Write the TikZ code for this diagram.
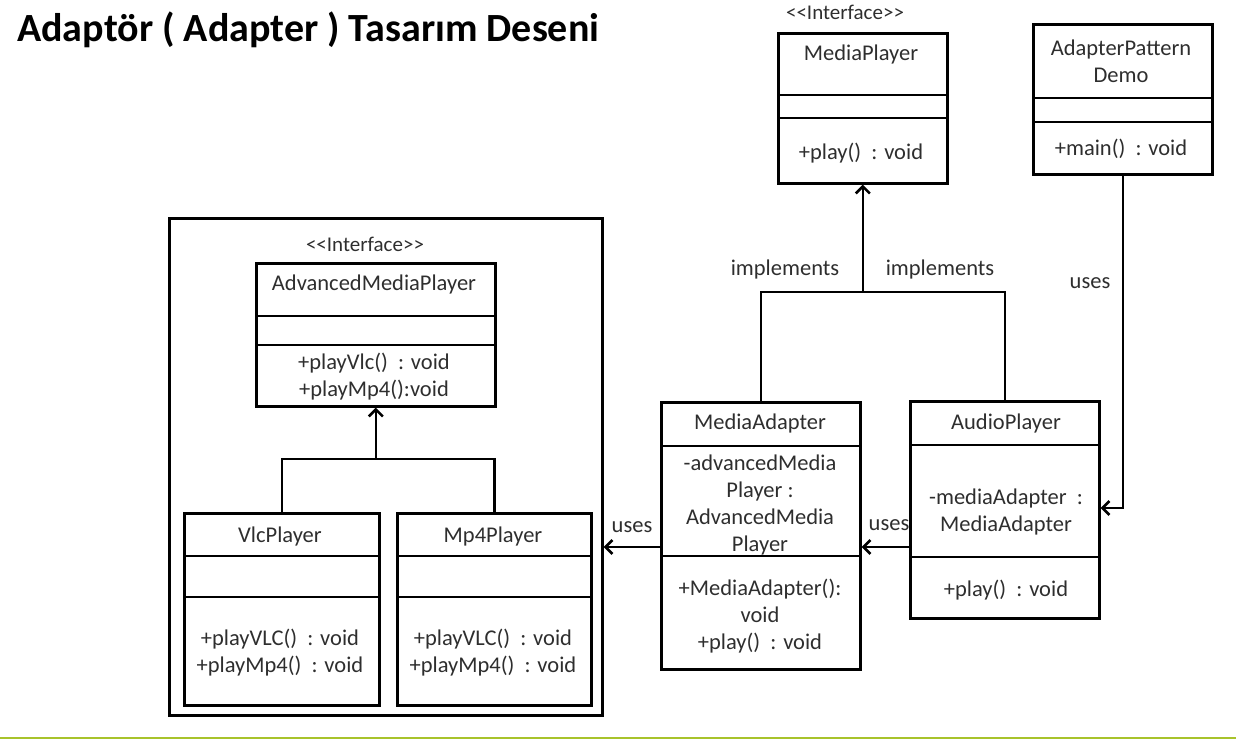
\documentclass[tikz,border=0pt]{standalone}
\usepackage{fontspec}
\setmainfont{Carlito}
\usetikzlibrary{arrows.meta}
\definecolor{txt}{HTML}{2E2E2E}
\definecolor{bar}{HTML}{A8C32B}
\begin{document}
\begin{tikzpicture}[x=1pt,y=-1pt,
 box/.style={draw=black, line width=2.6pt, rectangle, anchor=north west, inner sep=0pt},
 lbl/.style={font=\fontsize{22.5}{27}\selectfont, text=txt, inner sep=0pt, align=center},
 ster/.style={font=\fontsize{21}{25}\selectfont, text=txt, inner sep=0pt},
 conn/.style={line width=2.6pt},
 arr/.style={conn, -{Straight Barb[length=7pt,width=14pt,line width=2.6pt]}}]
\useasboundingbox (0,0) rectangle (1236,739);
% title
\node[anchor=base west, inner sep=0pt, font=\bfseries\fontsize{40}{45}\selectfont] (title) at (17,41) {Adaptör ( Adapter ) Tasarım Deseni};
% MediaPlayer
\node[ster] (st1) at (845,12) {<{}<Interface>{}>};
\node[box, minimum width=169pt, minimum height=150pt] (mp) at (777,32) {};
\draw[conn] (mp.west |- 0,95) -- (mp.east |- 0,95);
\draw[conn] (mp.west |- 0,118) -- (mp.east |- 0,118);
\node[lbl] (mpn) at (861,54) {MediaPlayer};
\node[lbl] (mpm) at (861,153) {+play()~ : void};
% AdapterPatternDemo
\node[box, minimum width=179pt, minimum height=150pt] (demo) at (1032,23) {};
\draw[conn] (demo.west |- 0,98) -- (demo.east |- 0,98);
\draw[conn] (demo.west |- 0,122) -- (demo.east |- 0,122);
\node[lbl] (demon) at (1121,61) {AdapterPattern\\Demo};
\node[lbl] (demom) at (1121,149) {+main()~ : void};
% outer container
\node[box, minimum width=433pt, minimum height=497pt] (outer) at (168,217) {};
\node[ster] (st2) at (365,244) {<{}<Interface>{}>};
% AdvancedMediaPlayer
\node[box, minimum width=239pt, minimum height=143pt] (amp) at (255,262) {};
\draw[conn] (amp.west |- 0,316) -- (amp.east |- 0,316);
\draw[conn] (amp.west |- 0,345) -- (amp.east |- 0,345);
\node[lbl] (ampn) at (374,284) {AdvancedMediaPlayer};
\node[lbl] (ampm) at (374,377) {+playVlc()~ : void\\+playMp4():void};
% VlcPlayer
\node[box, minimum width=195pt, minimum height=192pt] (vlc) at (183,512) {};
\draw[conn] (vlc.west |- 0,556) -- (vlc.east |- 0,556);
\draw[conn] (vlc.west |- 0,597) -- (vlc.east |- 0,597);
\node[lbl] (vlcn) at (280,536) {VlcPlayer};
\node[lbl] (vlcm) at (280,653) {+playVLC()~ : void\\+playMp4()~ : void};
% Mp4Player
\node[box, minimum width=194pt, minimum height=192pt] (mp4) at (396,512) {};
\draw[conn] (mp4.west |- 0,556) -- (mp4.east |- 0,556);
\draw[conn] (mp4.west |- 0,597) -- (mp4.east |- 0,597);
\node[lbl] (mp4n) at (493,536) {Mp4Player};
\node[lbl] (mp4m) at (493,653) {+playVLC()~ : void\\+playMp4()~ : void};
% MediaAdapter
\node[box, minimum width=199pt, minimum height=267pt] (ma) at (660,401) {};
\draw[conn] (ma.west |- 0,446) -- (ma.east |- 0,446);
\draw[conn] (ma.west |- 0,556) -- (ma.east |- 0,556);
\node[lbl] (man) at (760,423) {MediaAdapter};
\node[lbl] (maa) at (760,505) {-advancedMedia\\Player :\\AdvancedMedia\\Player};
\node[lbl] (mam) at (760,616) {+MediaAdapter():\\void\\+play()~ : void};
% AudioPlayer
\node[box, minimum width=189pt, minimum height=217pt] (ap) at (909,400) {};
\draw[conn] (ap.west |- 0,445) -- (ap.east |- 0,445);
\draw[conn] (ap.west |- 0,557) -- (ap.east |- 0,557);
\node[lbl] (apn) at (1006,423) {AudioPlayer};
\node[lbl] (apa) at (1006,512) {-mediaAdapter~ :\\MediaAdapter};
\node[lbl] (apm) at (1006,590) {+play()~ : void};
% connectors
\coordinate (j1) at (amp.south |- 0,459);
\draw[conn] (vlc.north) |- (j1) -| (mp4.north);
\draw[arr] (j1) -- (amp.south);
\coordinate (j2) at (mp.south |- 0,292);
\draw[conn] (ma.north) |- (j2) -| (ap.north);
\draw[arr] (j2) -- (mp.south);
\draw[arr] (ma.west |- 0,547) -- (outer.east |- 0,547);
\draw[arr] (ap.west |- 0,547) -- (ma.east |- 0,547);
\draw[arr] (demo.south) |- (ap.east |- 0,508);
% labels
\node[lbl] (u1) at (632,527) {uses};
\node[lbl] (u2) at (889,525) {uses};
\node[lbl] (u3) at (1090,283) {uses};
\node[lbl] (i1) at (785,269) {implements};
\node[lbl] (i2) at (940,269) {implements};
% bottom bar
\draw[bar, line width=2pt] (0,738) -- (1236,738);
\end{tikzpicture}
\end{document}
